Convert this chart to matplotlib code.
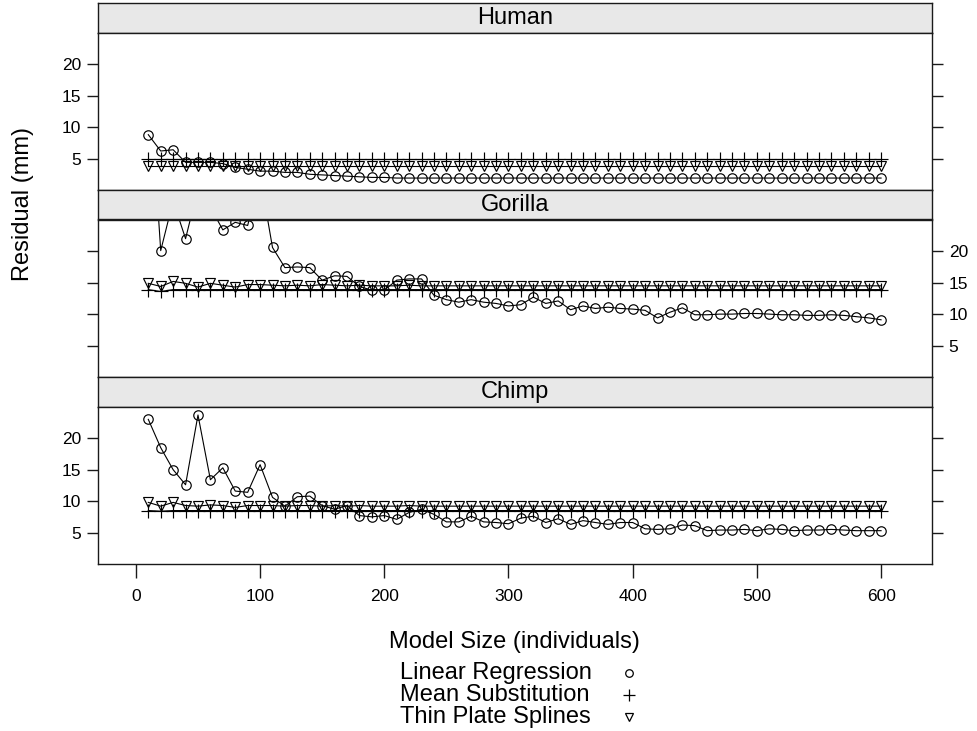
import matplotlib
matplotlib.use("Agg")
import matplotlib.pyplot as plt
from matplotlib.lines import Line2D

plt.rcParams['font.family'] = ['Liberation Sans', 'DejaVu Sans']

# ---------------- data ----------------
model_size = [10, 20, 30, 40, 50, 60, 70, 80, 90, 100,
              110, 120, 130, 140, 150, 160, 170, 180, 190, 200,
              210, 220, 230, 240, 250, 260, 270, 280, 290, 300,
              310, 320, 330, 340, 350, 360, 370, 380, 390, 400,
              410, 420, 430, 440, 450, 460, 470, 480, 490, 500,
              510, 520, 530, 540, 550, 560, 570, 580, 590, 600]

panels = ["Human", "Gorilla", "Chimp"]
methods = ["Linear Regression", "Mean Substitution", "Thin Plate Splines"]

human_lr = [8.8, 6.2, 6.4, 4.4, 4.4, 4.4, 4.2, 3.6, 3.3, 3.0,
            3.0, 2.8, 2.8, 2.5, 2.4, 2.3, 2.2, 2.1, 2.0, 2.0,
            1.9, 1.9, 1.9, 1.9, 1.9, 1.9, 1.9, 1.9, 1.9, 1.9,
            1.9, 1.9, 1.9, 1.9, 1.9, 1.9, 1.9, 1.9, 1.9, 1.9,
            1.9, 1.9, 1.9, 1.9, 1.9, 1.9, 1.9, 1.9, 1.9, 1.9,
            1.9, 1.9, 1.9, 1.9, 1.9, 1.9, 1.9, 1.9, 1.9, 1.9]
human_ms = [5.0, 5.0, 5.0, 5.0, 5.0, 5.0, 5.0, 5.0, 5.0, 5.0,
            5.0, 5.0, 5.0, 5.0, 5.0, 5.0, 5.0, 5.0, 5.0, 5.0,
            5.0, 5.0, 5.0, 5.0, 5.0, 5.0, 5.0, 5.0, 5.0, 5.0,
            5.0, 5.0, 5.0, 5.0, 5.0, 5.0, 5.0, 5.0, 5.0, 5.0,
            5.0, 5.0, 5.0, 5.0, 5.0, 5.0, 5.0, 5.0, 5.0, 5.0,
            5.0, 5.0, 5.0, 5.0, 5.0, 5.0, 5.0, 5.0, 5.0, 5.0]
human_tps = [3.8, 3.8, 3.8, 3.8, 3.8, 3.8, 3.8, 3.8, 3.8, 3.8,
             3.8, 3.8, 3.8, 3.8, 3.8, 3.8, 3.8, 3.8, 3.8, 3.8,
             3.8, 3.8, 3.8, 3.8, 3.8, 3.8, 3.8, 3.8, 3.8, 3.8,
             3.8, 3.8, 3.8, 3.8, 3.8, 3.8, 3.8, 3.8, 3.8, 3.8,
             3.8, 3.8, 3.8, 3.8, 3.8, 3.8, 3.8, 3.8, 3.8, 3.8,
             3.8, 3.8, 3.8, 3.8, 3.8, 3.8, 3.8, 3.8, 3.8, 3.8]

gorilla_lr = [50.0, 20.1, 28.0, 22.0, 30.0, 27.0, 23.4, 24.6, 24.1, 32.0,
              20.6, 17.4, 17.5, 17.4, 15.4, 16.1, 16.0, 14.4, 13.8, 13.8,
              15.4, 15.6, 15.6, 13.0, 12.3, 11.9, 12.3, 11.9, 11.7, 11.3,
              11.5, 12.7, 11.7, 12.1, 10.7, 11.3, 10.9, 11.1, 10.9, 10.8,
              10.6, 9.4, 10.3, 11.0, 9.9, 9.9, 10.0, 10.0, 10.1, 10.1,
              10.0, 9.9, 9.9, 9.8, 9.8, 9.9, 9.8, 9.6, 9.4, 9.1]
gorilla_ms = [13.9, 13.6, 13.9, 13.9, 13.9, 13.9, 13.9, 13.9, 13.9, 13.9,
              13.9, 13.9, 13.9, 13.9, 13.9, 13.9, 13.9, 13.9, 13.9, 13.9,
              13.9, 13.9, 13.9, 13.9, 13.9, 13.9, 13.9, 13.9, 13.9, 13.9,
              13.9, 13.9, 13.9, 13.9, 13.9, 13.9, 13.9, 13.9, 13.9, 13.9,
              13.9, 13.9, 13.9, 13.9, 13.9, 13.9, 13.9, 13.9, 13.9, 13.9,
              13.9, 13.9, 13.9, 13.9, 13.9, 13.9, 13.9, 13.9, 13.9, 13.9]
gorilla_tps = [14.9, 14.4, 15.2, 14.9, 14.3, 14.9, 14.6, 14.3, 14.7, 14.7,
               14.6, 14.5, 14.6, 14.5, 14.7, 14.6, 14.5, 14.6, 14.5, 14.5,
               14.5, 14.6, 14.5, 14.5, 14.5, 14.5, 14.5, 14.5, 14.5, 14.5,
               14.5, 14.5, 14.5, 14.5, 14.5, 14.5, 14.5, 14.5, 14.5, 14.5,
               14.5, 14.5, 14.5, 14.5, 14.5, 14.5, 14.5, 14.5, 14.5, 14.5,
               14.5, 14.5, 14.5, 14.5, 14.5, 14.5, 14.5, 14.5, 14.5, 14.5]

chimp_lr = [23.0, 18.5, 15.0, 12.6, 23.7, 13.4, 15.3, 11.6, 11.4, 15.8,
            10.6, 9.2, 10.7, 10.8, 9.3, 8.7, 9.3, 7.7, 7.5, 7.7,
            7.1, 8.2, 8.7, 7.9, 6.7, 6.7, 7.6, 6.7, 6.6, 6.4,
            7.3, 7.6, 6.6, 7.2, 6.3, 6.9, 6.6, 6.3, 6.6, 6.6,
            5.6, 5.5, 5.6, 6.2, 6.1, 5.3, 5.4, 5.4, 5.5, 5.3,
            5.6, 5.5, 5.3, 5.4, 5.4, 5.5, 5.4, 5.3, 5.3, 5.3]
chimp_ms = [8.5, 8.4, 8.5, 8.5, 8.5, 8.5, 8.5, 8.5, 8.5, 8.5,
            8.5, 8.5, 8.5, 8.5, 8.5, 8.5, 8.5, 8.5, 8.5, 8.5,
            8.5, 8.5, 8.5, 8.5, 8.5, 8.5, 8.5, 8.5, 8.5, 8.5,
            8.5, 8.5, 8.5, 8.5, 8.5, 8.5, 8.5, 8.5, 8.5, 8.5,
            8.5, 8.5, 8.5, 8.5, 8.5, 8.5, 8.5, 8.5, 8.5, 8.5,
            8.5, 8.5, 8.5, 8.5, 8.5, 8.5, 8.5, 8.5, 8.5, 8.5]
chimp_tps = [9.8, 9.2, 9.8, 9.3, 9.2, 9.4, 9.3, 9.0, 9.3, 9.3,
             9.3, 9.2, 9.3, 9.3, 9.2, 9.3, 9.2, 9.3, 9.2, 9.2,
             9.2, 9.3, 9.2, 9.2, 9.2, 9.2, 9.2, 9.2, 9.2, 9.2,
             9.2, 9.2, 9.2, 9.2, 9.2, 9.2, 9.2, 9.2, 9.2, 9.2,
             9.2, 9.2, 9.2, 9.2, 9.2, 9.2, 9.2, 9.2, 9.2, 9.2,
             9.2, 9.2, 9.2, 9.2, 9.2, 9.2, 9.2, 9.2, 9.2, 9.2]

y_ticks = [5, 10, 15, 20]
x_ticks = [0, 100, 200, 300, 400, 500, 600]

panel_data = {
    "Human": (human_lr, human_ms, human_tps),
    "Gorilla": (gorilla_lr, gorilla_ms, gorilla_tps),
    "Chimp": (chimp_lr, chimp_ms, chimp_tps),
}

# ---------------- layout ----------------
W, H = 977, 731
fig = plt.figure(figsize=(W / 100, H / 100), dpi=100)

left_px, right_px = 98, 932
top_px = 3
strip_h, panel_h = 29.5, 157.5
fx = lambda px: px / W
fy = lambda py: 1 - py / H

marker_styles = [
    dict(marker='o', markersize=6.8, fillstyle='none'),
    dict(marker='+', markersize=10),
    dict(marker='v', markersize=7.0, fillstyle='none'),
]

dark = '#1a1a1a'
strip_col = '#e8e8e8'
label_fs = 17
tick_fs = 12.5

for i, name in enumerate(panels):
    s_top = top_px + i * (strip_h + panel_h)
    p_top = s_top + strip_h
    p_bot = p_top + panel_h
    # strip
    sax = fig.add_axes([fx(left_px), fy(p_top), fx(right_px - left_px),
                        strip_h / H])
    sax.set_facecolor(strip_col)
    sax.set_xticks([])
    sax.set_yticks([])
    for sp in sax.spines.values():
        sp.set_linewidth(1.0)
        sp.set_color(dark)
    sax.text(0.5, 0.5, name, ha='center', va='center', fontsize=label_fs,
             color='black', transform=sax.transAxes)
    # panel
    ax = fig.add_axes([fx(left_px), fy(p_bot), fx(right_px - left_px),
                       panel_h / H])
    for series, ms in zip(panel_data[name], marker_styles):
        ax.plot(model_size, series, color='black', lw=0.8,
                markeredgewidth=0.85, markeredgecolor='black', **ms)
    ax.set_xlim(-30.5, 641)
    ax.set_ylim(0.0, 25.05)
    ax.set_yticks(y_ticks)
    for sp in ax.spines.values():
        sp.set_linewidth(1.0)
        sp.set_color(dark)
    label_right = (name == "Gorilla")
    ax.tick_params(axis='y', which='both', left=True, right=True,
                   labelleft=not label_right, labelright=label_right,
                   direction='out', length=8, width=1.0, color=dark,
                   labelsize=tick_fs, pad=4)
    if i == len(panels) - 1:
        ax.set_xticks(x_ticks)
        ax.tick_params(axis='x', direction='out', length=10, width=1.0,
                       color=dark, labelsize=tick_fs, pad=8)
    else:
        ax.set_xticks([])

# axis labels
fig.text(fx(23), fy(204), "Residual (mm)", rotation=90, ha='center',
         va='center', fontsize=label_fs)
fig.text(fx(514), fy(642), "Model Size (individuals)", ha='center',
         va='center', fontsize=label_fs)

# key
key_y = [673, 695, 717]
for lab, ms, ky in zip(methods, marker_styles, key_y):
    fig.text(fx(400), fy(ky), lab, ha='left', va='center', fontsize=label_fs)
    kms = dict(ms)
    kms['markersize'] = ms['markersize'] * 0.8
    fig.add_artist(Line2D([fx(629)], [fy(ky)], transform=fig.transFigure,
                          color='black', markeredgewidth=0.9,
                          linestyle='none', **kms))

fig.savefig("out.png", dpi=100)
